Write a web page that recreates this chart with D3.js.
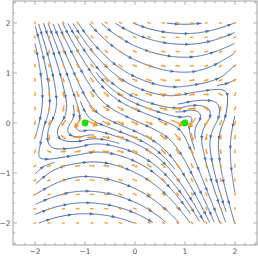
<!DOCTYPE html>
<html><head><meta charset="utf-8">
<script src="https://cdn.jsdelivr.net/npm/d3@7"></script>
<style>body{margin:0;background:#fff}svg{display:block}</style>
</head><body>
<svg id="c" width="258" height="258"></svg>
<script>
// ---- data ----
const gridX = [-2, -1.5, -1, -0.5, 0, 0.5, 1, 1.5, 2];
const gridY = [2, 1.5, 1, 0.5, 0, -0.5, -1, -1.5, -2];
// flow direction (degrees, counter-clockwise from +x) at each grid node; null = equilibrium
const flowAngle = [
  [-74, -65, -52, -37, -22, -10,   0,  12,  22],
  [-78, -68, -55, -40, -25, -12,   0,  15,  28],
  [-84, -74, -60, -42, -25, -15,   0,  25,  50],
  [-92, -84, -62, -40, -24, -10,  15,   0, 245],
  [260, 235, null, -24, -24, -24, null, 235, 260],
  [245,   0,  15, -10, -24, -40, -62, -84, -92],
  [ 50,  25,   0, -15, -25, -42, -60, -74, -84],
  [ 28,  15,   0, -12, -25, -40, -55, -68, -78],
  [ 22,  12,   0, -10, -22, -37, -52, -65, -74]
];
// field speed at each grid node
const flowSpeed = [
  [8.06, 6.60, 5.66, 5.15, 5.00, 5.15, 5.66, 6.60, 8.06],
  [6.05, 4.61, 3.75, 3.35, 3.25, 3.35, 3.75, 4.61, 6.05],
  [4.47, 3.01, 2.24, 2.02, 2.00, 2.02, 2.24, 3.01, 4.47],
  [3.40, 1.80, 1.03, 1.12, 1.25, 1.12, 1.03, 1.80, 3.40],
  [3.00, 1.25, 0.00, 0.75, 1.00, 0.75, 0.00, 1.25, 3.00],
  [3.40, 1.80, 1.03, 1.12, 1.25, 1.12, 1.03, 1.80, 3.40],
  [4.47, 3.01, 2.24, 2.02, 2.00, 2.02, 2.24, 3.01, 4.47],
  [6.05, 4.61, 3.75, 3.35, 3.25, 3.35, 3.75, 4.61, 6.05],
  [8.06, 6.60, 5.66, 5.15, 5.00, 5.15, 5.66, 6.60, 8.06]
];
const equilibriaX = [-1, 1];
const equilibriaY = [0, 0];
const tickValues = [-2, -1, 0, 1, 2];
const tickLabels = ["\u22122", "\u22121", "0", "1", "2"];

// ---- scales ----
const svg = d3.select("#c");
const x = d3.scaleLinear().domain([-2, 2]).range([35, 235]);
const y = d3.scaleLinear().domain([-2, 2]).range([223, 23]);
const frameX = [-2.44, 2.44], frameY = [-2.44, 2.44];

// ---- field from grid ----
const U = flowAngle.map(r => r.map(a => a === null ? 0 : Math.cos(a * Math.PI / 180)));
const V = flowAngle.map(r => r.map(a => a === null ? 0 : Math.sin(a * Math.PI / 180)));
const step = gridX[1] - gridX[0];
function field(xv, yv) {
  let fi = (xv - gridX[0]) / step, fj = (gridY[0] - yv) / step;
  fi = Math.max(0, Math.min(gridX.length - 1.0001, fi));
  fj = Math.max(0, Math.min(gridY.length - 1.0001, fj));
  const i = Math.floor(fi), j = Math.floor(fj), tx = fi - i, ty = fj - j;
  const w00 = (1 - tx) * (1 - ty), w10 = tx * (1 - ty), w01 = (1 - tx) * ty, w11 = tx * ty;
  const u = U[j][i] * w00 + U[j][i + 1] * w10 + U[j + 1][i] * w01 + U[j + 1][i + 1] * w11;
  const v = V[j][i] * w00 + V[j][i + 1] * w10 + V[j + 1][i] * w01 + V[j + 1][i + 1] * w11;
  const s = flowSpeed[j][i] * w00 + flowSpeed[j][i + 1] * w10 + flowSpeed[j + 1][i] * w01 + flowSpeed[j + 1][i + 1] * w11;
  return [u, v, s];
}
function dir(p) {
  const f = field(p[0], p[1]);
  const m = Math.hypot(f[0], f[1]);
  if (m < 1e-4) return null;
  return [f[0] / m, f[1] / m, m];
}

// ---- evenly spaced streamlines ----
const dsep = 9.2 / 50, dtest = 0.42 * dsep, h = 0.02, cell = dsep;
const occ = new Map();
const ck = (p) => [Math.floor((p[0] + 3) / cell), Math.floor((p[1] + 3) / cell)];
function addPts(pts, id) {
  for (const p of pts) {
    const [cx, cy] = ck(p), k = cx * 1000 + cy;
    if (!occ.has(k)) occ.set(k, []);
    occ.get(k).push([p[0], p[1], id]);
  }
}
function minDist(p) {
  const [cx, cy] = ck(p);
  let best = Infinity;
  for (let dx = -1; dx <= 1; dx++) for (let dy = -1; dy <= 1; dy++) {
    const a = occ.get((cx + dx) * 1000 + cy + dy);
    if (!a) continue;
    for (const q of a) { const d = Math.hypot(q[0] - p[0], q[1] - p[1]); if (d < best) best = d; }
  }
  return best;
}
const inside = p => p[0] >= -2 && p[0] <= 2 && p[1] >= -2 && p[1] <= 2;
function trace(seed, sgn) {
  const pts = [seed];
  let p = seed, prev = null;
  for (let k = 0; k < 1500; k++) {
    const d1 = dir(p);
    if (!d1 || d1[2] < 0.07) break;
    const mid = [p[0] + sgn * d1[0] * h / 2, p[1] + sgn * d1[1] * h / 2];
    const d2 = dir(mid);
    if (!d2) break;
    const np = [p[0] + sgn * d2[0] * h, p[1] + sgn * d2[1] * h];
    if (!inside(np)) break;
    if (prev && d2[0] * prev[0] + d2[1] * prev[1] < 0.5) break;
    if (minDist(np) < dtest) break;
    pts.push(np); prev = d2; p = np;
  }
  return pts;
}
const lines = [];
function build(seed) {
  if (!inside(seed) || minDist(seed) < dsep * 0.95) return null;
  const d = dir(seed);
  if (!d || d[2] < 0.12) return null;
  const f = trace(seed, 1), b = trace(seed, -1);
  const pts = b.reverse().concat(f.slice(1));
  if (pts.length * h < 0.2) return null;
  addPts(pts, lines.length);
  lines.push(pts);
  return pts;
}
function grow(first) {
  const queue = [first];
  while (queue.length) {
    const L = queue.shift();
    for (let k = 0; k < L.length; k += 3) {
      const a = L[Math.max(0, k - 1)], b = L[Math.min(L.length - 1, k + 1)];
      const dx = b[0] - a[0], dy = b[1] - a[1], m = Math.hypot(dx, dy) || 1;
      const nx = -dy / m, ny = dx / m;
      for (const s of [1, -1]) {
        const c = [L[k][0] + s * nx * dsep, L[k][1] + s * ny * dsep];
        const nl = build(c);
        if (nl) queue.push(nl);
      }
    }
  }
}
const firstSeeds = [[0, 0.05]];
for (const s of firstSeeds) { const l = build(s); if (l) grow(l); }
for (let gy = 1.95; gy >= -1.95; gy -= 0.06)
  for (let gx = -1.95; gx <= 1.95; gx += 0.06) { const l = build([gx, gy]); if (l) grow(l); }

// ---- draw frame & ticks ----
const gray = "#a0a0a0";
svg.append("rect").attr("x", x(frameX[0])).attr("y", y(frameY[1]))
  .attr("width", x(frameX[1]) - x(frameX[0])).attr("height", y(frameY[0]) - y(frameY[1]))
  .attr("fill", "none").attr("stroke", gray).attr("stroke-width", 1);
const minorTicks = d3.range(-24, 25, 2).map(v => v / 10).filter(v => Math.abs(v - Math.round(v)) > 1e-6);
const tk = svg.append("g").attr("stroke", gray).attr("stroke-width", 0.8);
function ticksAt(vals, len) {
  for (const v of vals) {
    tk.append("line").attr("x1", x(v)).attr("x2", x(v)).attr("y1", y(frameY[0])).attr("y2", y(frameY[0]) - len);
    tk.append("line").attr("x1", x(v)).attr("x2", x(v)).attr("y1", y(frameY[1])).attr("y2", y(frameY[1]) + len);
    tk.append("line").attr("y1", y(v)).attr("y2", y(v)).attr("x1", x(frameX[0])).attr("x2", x(frameX[0]) + len);
    tk.append("line").attr("y1", y(v)).attr("y2", y(v)).attr("x1", x(frameX[1])).attr("x2", x(frameX[1]) - len);
  }
}
ticksAt(tickValues, 4);
ticksAt(minorTicks, 2.2);
const lab = svg.append("g").attr("font-family", "DejaVu Sans, sans-serif").attr("font-size", 7.5).attr("fill", "#555");
tickValues.forEach((v, i) => {
  lab.append("text").attr("x", x(v)).attr("y", y(frameY[0]) + 9).attr("text-anchor", "middle").text(tickLabels[i]);
  lab.append("text").attr("x", x(frameX[0]) - 2.5).attr("y", y(v) + 2.7).attr("text-anchor", "end").text(tickLabels[i]);
});

// ---- streamlines ----
const blue = "#4e6da4";
const lineGen = d3.line().x(p => x(p[0])).y(p => y(p[1]));
const gS = svg.append("g");
gS.selectAll("path.s").data(lines).join("path").attr("class", "s")
  .attr("d", lineGen).attr("fill", "none").attr("stroke", blue).attr("stroke-width", 1.0);
const heads = [];
for (const L of lines) {
  let acc = 0, next = 10;
  for (let k = 1; k < L.length; k++) {
    const px0 = x(L[k - 1][0]), py0 = y(L[k - 1][1]), px1 = x(L[k][0]), py1 = y(L[k][1]);
    acc += Math.hypot(px1 - px0, py1 - py0);
    if (acc >= next && k < L.length - 2) {
      heads.push({ px: px1, py: py1, ang: Math.atan2(py1 - py0, px1 - px0) });
      next += 22;
    }
  }
}
gS.selectAll("path.h").data(heads).join("path").attr("class", "h")
  .attr("d", "M2.1,0 L-1.9,-1.6 L-1.9,1.6 Z").attr("fill", blue)
  .attr("transform", d => `translate(${d.px},${d.py}) rotate(${d.ang * 180 / Math.PI})`);

// ---- orange vector arrows ----
const orange = "#f7982c";
const vecIdx = d3.range(15);
const vecPts = [];
for (const j of vecIdx) for (const i of vecIdx) {
  const xv = -2 + i * 4 / 14, yv = -2 + j * 4 / 14;
  const f = field(xv, yv), m = Math.hypot(f[0], f[1]);
  if (m < 1e-3) continue;
  vecPts.push({ xv, yv, dx: f[0] / m, dy: f[1] / m, s: f[2] });
}
const gV = svg.append("g");
for (const d of vecPts) {
  const L = Math.max(3, Math.min(14, 8 * Math.pow(Math.max(d.s, 0.05), -0.45)));
  const cx = x(d.xv), cy = y(d.yv);
  const ux = d.dx, uy = -d.dy;
  const x0 = cx - ux * L / 2, y0 = cy - uy * L / 2, x1 = cx + ux * L / 2, y1 = cy + uy * L / 2;
  const hl = Math.max(1.6, L * 0.38), hw = Math.max(1.1, L * 0.24);
  const bx = x1 - ux * hl, by = y1 - uy * hl;
  gV.append("line").attr("x1", x0).attr("y1", y0).attr("x2", bx).attr("y2", by)
    .attr("stroke", orange).attr("stroke-width", 1.3);
  gV.append("path").attr("d", `M${x1},${y1} L${bx - uy * hw},${by + ux * hw} L${bx + uy * hw},${by - ux * hw} Z`)
    .attr("fill", orange);
}

// ---- equilibria ----
svg.append("g").selectAll("circle").data(equilibriaX).join("circle")
  .attr("cx", d => x(d)).attr("cy", (d, i) => y(equilibriaY[i])).attr("r", 3.4).attr("fill", "#14e014");
</script>
</body></html>
